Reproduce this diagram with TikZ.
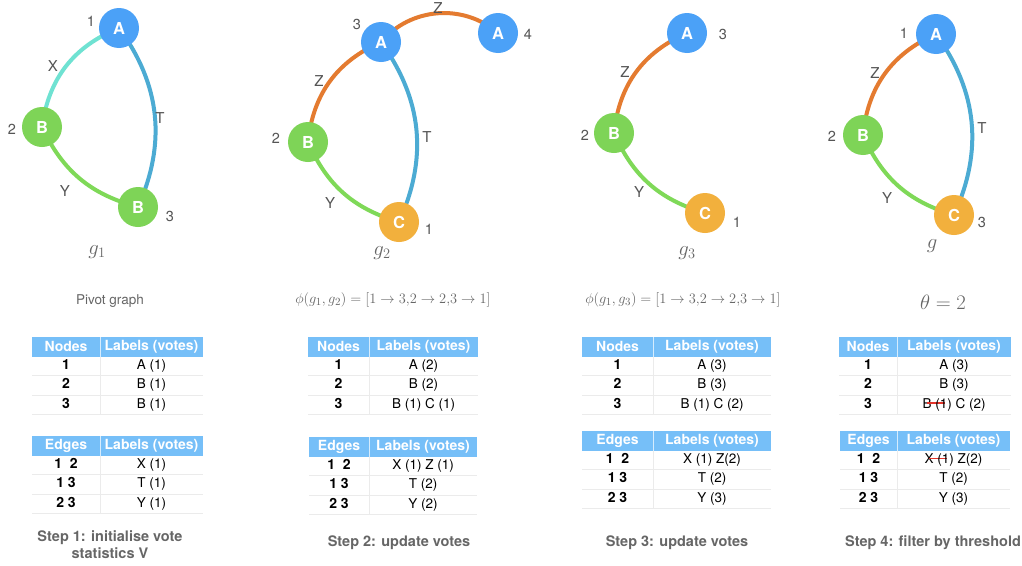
\documentclass[tikz,border=0pt]{standalone}
\usepackage{fontspec}
\setmainfont{TeX Gyre Heros}
\usetikzlibrary{backgrounds}
\definecolor{nodeblue}{HTML}{4BA1F7}
\definecolor{nodegreen}{HTML}{7ED457}
\definecolor{nodeorange}{HTML}{F2B03D}
\definecolor{edgeorange}{HTML}{E47B30}
\definecolor{edgecyan}{HTML}{6FE2D2}
\definecolor{edgeblue}{HTML}{4CABD3}
\definecolor{edgegreen}{HTML}{7FD958}
\definecolor{headblue}{HTML}{76BFF8}
\definecolor{inkgray}{HTML}{555555}
\definecolor{capgray}{HTML}{666666}
\definecolor{strikered}{HTML}{E3342A}

% red line through a piece of a cell
\newsavebox\strikebox
\newcommand{\struck}[1]{\sbox\strikebox{#1}\rlap{\hskip-5pt\color{strikered}\rule[.32em]{\dimexpr\wd\strikebox+3pt\relax}{1.3pt}}\usebox\strikebox}

% table: prefix, left, divider, right, top, header, rows
\newcommand{\votetable}[7]{%
  \fill[headblue] (#2,#5) rectangle (#4,#5+19.5);
  \draw[white!70!headblue,line width=1pt] (#3,#5) -- (#3,#5+19.5);
  \node[headtext] (#1hk) at ({(#2+#3)/2},#5+9.75) {#6};
  \node[headtext] (#1hl) at ({(#3+#4)/2},#5+9.75) {Labels (votes)};
  \foreach \key/\val [count=\nr] in {#7}{
    \node[keytext] (#1k\nr) at ({(#2+#3)/2},#5+9.9+19.2*\nr) {\key};
    \node[celltext] (#1v\nr) at ({(#3+#4)/2},#5+9.9+19.2*\nr) {\val};
    \draw[rowline] (#2,#5+19.5+19.2*\nr) -- (#4,#5+19.5+19.2*\nr);
  }
  \draw[rowline] (#3,#5+19.5) -- (#3,#5+77.1);
}

\begin{document}
\begin{tikzpicture}[x=1pt,y=-1pt,
  vtx/.style={circle,minimum size=40pt,inner sep=0pt,text=white,font=\bfseries\fontsize{16.5}{16.5}\selectfont},
  num/.style={text=inkgray,font=\fontsize{14.5}{14.5}\selectfont},
  elbl/.style={text=inkgray,font=\fontsize{15}{15}\selectfont},
  glbl/.style={text=capgray,font=\fontsize{22}{22}\selectfont},
  link/.style={line width=4pt},
  headtext/.style={text=white,font=\bfseries\fontsize{14}{14}\selectfont,inner sep=0pt},
  keytext/.style={text=black,font=\bfseries\fontsize{14}{14}\selectfont,inner sep=0pt,text height=10pt,text depth=3pt},
  celltext/.style={text=black,font=\fontsize{13.5}{13.5}\selectfont,inner sep=0pt,text height=10pt,text depth=3pt},
  rowline/.style={draw=black!8,line width=0.8pt},
  caption/.style={text=capgray,font=\fontsize{13.5}{13.5}\selectfont},
  stepcap/.style={text=capgray,font=\bfseries\fontsize{14.5}{17}\selectfont,align=center},
  formula/.style={text=capgray,font=\fontsize{15}{15}\selectfont}]
\useasboundingbox (0,0) rectangle (1022,565);

% pivot graph g1
\node[vtx,fill=nodeblue] (p1a) at (119,28) {A};
\node[vtx,fill=nodegreen] (p1b) at (42,127) {B};
\node[vtx,fill=nodegreen] (p1c) at (138,207) {B};
\node[num] (p1n1) at (91,21) {1};
\node[num] (p1n2) at (12,129) {2};
\node[num] (p1n3) at (170,216) {3};
\node[elbl] (p1x) at (53,66) {X};
\node[elbl] (p1t) at (160,118) {T};
\node[elbl] (p1y) at (65,191) {Y};
\node[glbl] (p1g) at (97,252) {$g_1$};
\node[caption] (p1cap) at (110,301) {Pivot graph};

% graph g2
\node[vtx,fill=nodeblue] (p2a) at (381,42) {A};
\node[vtx,fill=nodeblue] (p2d) at (498,33) {A};
\node[vtx,fill=nodegreen] (p2b) at (308,142) {B};
\node[vtx,fill=nodeorange] (p2c) at (399,222) {C};
\node[num] (p2n3) at (357,24) {3};
\node[num] (p2n4) at (528,34) {4};
\node[num] (p2n2) at (276,138) {2};
\node[num] (p2n1) at (429,229) {1};
\node[elbl] (p2z1) at (438,8) {Z};
\node[elbl] (p2z2) at (319,81) {Z};
\node[elbl] (p2t) at (427,137) {T};
\node[elbl] (p2y) at (330,203) {Y};
\node[glbl] (p2g) at (382,253) {$g_2$};
\node[formula] (p2phi) at (393,300) {$\phi(g_1, g_2) = [1 \rightarrow 3{,}2 \rightarrow 2{,}3 \rightarrow 1]$};

% graph g3
\node[vtx,fill=nodeblue] (p3a) at (687,33) {A};
\node[vtx,fill=nodegreen] (p3b) at (614,133) {B};
\node[vtx,fill=nodeorange] (p3c) at (705,213) {C};
\node[num] (p3n3) at (723,34) {3};
\node[num] (p3n2) at (585,135) {2};
\node[num] (p3n1) at (737,222) {1};
\node[elbl] (p3z) at (625,72) {Z};
\node[elbl] (p3y) at (639,192) {Y};
\node[glbl] (p3g) at (687,253) {$g_3$};
\node[formula] (p3phi) at (683,300) {$\phi(g_1, g_3) = [1 \rightarrow 3{,}2 \rightarrow 2{,}3 \rightarrow 1]$};

% result graph g
\node[vtx,fill=nodeblue] (p4a) at (936,34) {A};
\node[vtx,fill=nodegreen] (p4b) at (863,135) {B};
\node[vtx,fill=nodeorange] (p4c) at (954,215) {C};
\node[num] (p4n1) at (904,33) {1};
\node[num] (p4n2) at (832,136) {2};
\node[num] (p4n3) at (982,222) {3};
\node[elbl] (p4z) at (875,73) {Z};
\node[elbl] (p4t) at (982,128) {T};
\node[elbl] (p4y) at (887,198) {Y};
\node[glbl] (p4g) at (932,246) {$g$};
\node[glbl] (p4theta) at (943,302) {$\theta = 2$};

\begin{pgfonlayer}{background}
\fill[white] (0,0) rectangle (1022,565);
\draw[link,edgecyan] (p1a.center) to[bend right=30] (p1b.center);
\draw[link,edgeblue] (p1a.center) to[bend left=30] (p1c.center);
\draw[link,edgegreen] (p1b.center) to[bend right=25] (p1c.center);
\draw[link,edgeorange] (p2a.center) to[bend left=45] (p2d.center);
\draw[link,edgeorange] (p2a.center) to[bend right=30] (p2b.center);
\draw[link,edgeblue] (p2a.center) to[bend left=30] (p2c.center);
\draw[link,edgegreen] (p2b.center) to[bend right=25] (p2c.center);
\draw[link,edgeorange] (p3a.center) to[bend right=30] (p3b.center);
\draw[link,edgegreen] (p3b.center) to[bend right=25] (p3c.center);
\draw[link,edgeorange] (p4a.center) to[bend right=30] (p4b.center);
\draw[link,edgeblue] (p4a.center) to[bend left=30] (p4c.center);
\draw[link,edgegreen] (p4b.center) to[bend right=25] (p4c.center);
\end{pgfonlayer}

% vote tables
\votetable{t1n}{32}{100}{203}{337}{Nodes}{1/A (1), 2/B (1), 3/B (1)}
\votetable{t1e}{32}{100}{203}{436}{Edges}{1\ \ 2/X (1), 1 3/T (1), 2 3/Y (1)}
\votetable{t2n}{308}{369}{478}{337}{Nodes}{1/A (2), 2/B (2), 3/B (1) C (1)}
\votetable{t2e}{309}{369}{477}{437}{Edges}{1\ \ 2/X (1) Z (1), 1 3/T (2), 2 3/Y (2)}
\votetable{t3n}{582}{653}{771}{337}{Nodes}{1/A (3), 2/B (3), 3/B (1) C (2)}
\votetable{t3e}{582}{653}{771}{431}{Edges}{1\ \ 2/X (1) Z(2), 1 3/T (2), 2 3/Y (3)}
\votetable{t4n}{839}{897}{1011}{337}{Nodes}{1/A (3), 2/B (3), 3/B\struck{ (1}) C (2)}
\votetable{t4e}{840}{897}{1010}{431}{Edges}{1\ \ 2/X\struck{ (1}) Z(2), 1 3/T (2), 2 3/Y (3)}

% step captions
\node[stepcap] (s1) at (110,545) {Step 1: initialise vote\\statistics V};
\node[stepcap] (s2) at (399,543) {Step 2: update votes};
\node[stepcap] (s3) at (677,543) {Step 3: update votes};
\node[stepcap] (s4) at (933,543) {Step 4: filter by threshold};
\end{tikzpicture}
\end{document}
